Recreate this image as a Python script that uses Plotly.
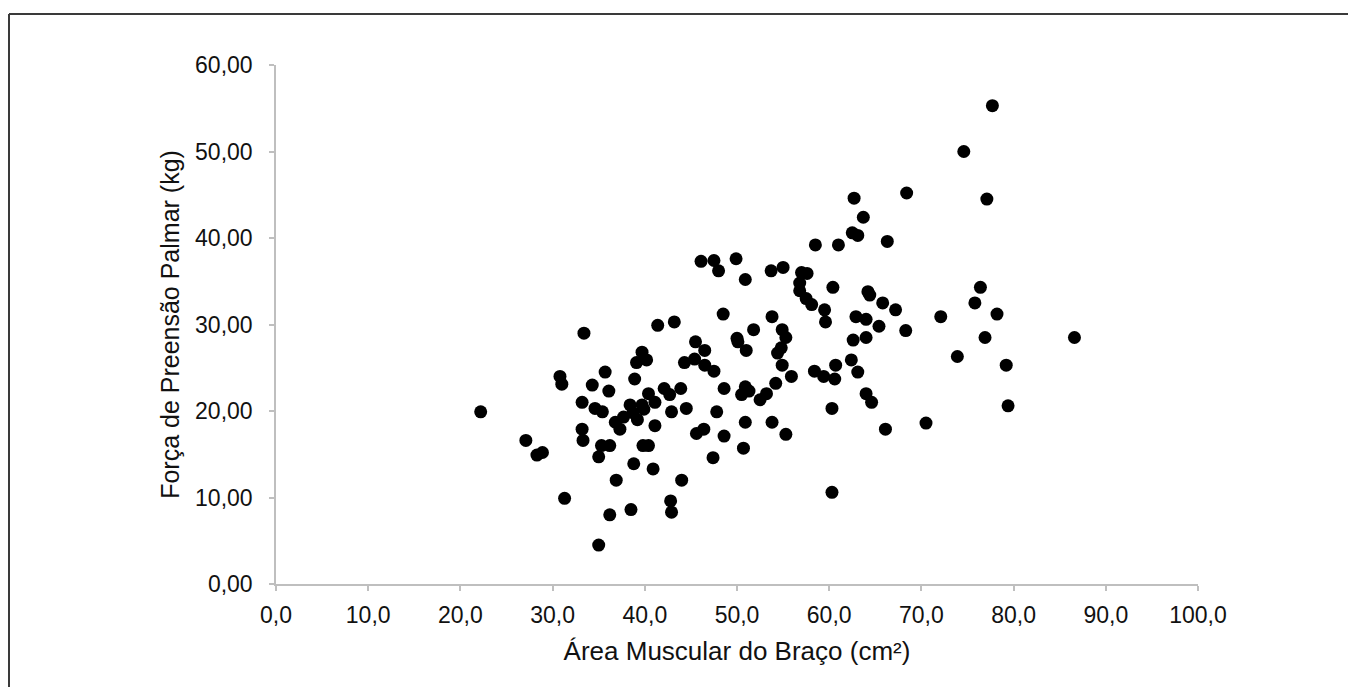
import plotly.graph_objects as go

# Área Muscular do Braço (cm²)
area = [
    22.2, 27.1, 28.3, 28.9, 31.3, 30.8, 31.0, 33.4, 33.2, 33.2,
    33.3, 34.3, 34.6, 35.4, 35.7, 36.1, 35.0, 35.3, 36.2, 36.2,
    36.9, 35.0, 36.8,
    37.3, 37.7, 38.4, 39.7, 38.7, 39.2, 39.9, 38.5, 38.8, 38.9,
    39.7, 39.1, 40.2, 39.8, 40.4, 40.9, 41.1, 40.4, 41.1, 41.4,
    43.2, 42.1, 42.7, 43.9, 42.9, 44.5, 42.8, 42.9, 44.0, 44.3,
    45.5, 46.5, 45.4, 46.5, 47.5, 48.5, 48.6, 47.8, 45.6, 46.4,
    48.6, 47.4, 50.7, 50.9, 50.5, 50.9, 51.3, 50.0, 50.1, 51.0,
    51.8, 50.9, 46.1, 47.5, 48.0, 49.9, 53.7, 55.0, 57.0, 57.6,
    56.8, 56.8, 57.5, 58.1, 58.5, 61.0, 60.4, 59.5, 59.6, 53.8,
    54.9, 55.3, 54.8, 54.4, 54.9, 55.9, 54.2, 52.5, 53.2, 53.8,
    55.3, 58.4, 59.4, 60.6, 60.7, 60.3, 60.3, 62.4, 63.1, 62.6,
    62.9, 64.0, 64.0, 64.2, 64.4, 65.8, 65.4, 67.2, 68.3, 64.0,
    64.6, 66.1, 70.5, 72.1, 73.9, 75.8, 76.4, 76.9, 78.2, 79.2,
    79.4, 86.6, 62.7, 63.7, 62.5, 63.1, 66.3, 68.4, 74.6, 77.1,
    77.7,
]

# Força de Preensão Palmar (kg)
forca = [
    19.9, 16.6, 14.9, 15.2, 9.9, 24.0, 23.1, 29.0, 21.0, 17.9,
    16.6, 23.0, 20.3, 19.9, 24.5, 22.3, 14.7, 16.0, 16.0, 8.0,
    12.0, 4.5, 18.7,
    17.9, 19.3, 20.7, 20.7, 19.8, 19.0, 20.2, 8.6, 13.9, 23.7,
    26.8, 25.6, 25.9, 16.0, 16.0, 13.3, 18.3, 22.0, 21.0, 29.9,
    30.3, 22.6, 21.9, 22.6, 19.9, 20.3, 9.6, 8.3, 12.0, 25.6,
    28.0, 27.0, 26.0, 25.3, 24.6, 31.2, 22.6, 19.9, 17.4, 17.9,
    17.1, 14.6, 15.7, 18.7, 21.9, 22.8, 22.3, 28.4, 28.0, 27.0,
    29.4, 35.2, 37.3, 37.4, 36.2, 37.6, 36.2, 36.6, 36.0, 35.9,
    34.8, 33.9, 33.0, 32.3, 39.2, 39.2, 34.3, 31.7, 30.3, 30.9,
    29.4, 28.5, 27.3, 26.7, 25.3, 24.0, 23.2, 21.3, 22.0, 18.7,
    17.3, 24.6, 24.0, 23.7, 25.3, 20.3, 10.6, 25.9, 24.5, 28.2,
    30.9, 30.6, 28.5, 33.8, 33.4, 32.5, 29.8, 31.7, 29.3, 22.0,
    21.0, 17.9, 18.6, 30.9, 26.3, 32.5, 34.3, 28.5, 31.2, 25.3,
    20.6, 28.5, 44.6, 42.4, 40.6, 40.3, 39.6, 45.2, 50.0, 44.5,
    55.3,
]

x_ticks = [0, 10, 20, 30, 40, 50, 60, 70, 80, 90, 100]
y_ticks = [0, 10, 20, 30, 40, 50, 60]

FONT = "Liberation Sans, Arial, sans-serif"
AXIS_GRAY = "#bfbfbf"
TICK_SIZE = 23
TITLE_SIZE = 25

fig = go.Figure()
fig.add_trace(go.Scatter(
    x=area, y=forca, mode="markers",
    marker=dict(color="black", size=13, line=dict(width=0)),
    hoverinfo="x+y", showlegend=False,
))

# the page body adds an 8px offset, so the figure is drawn 8px smaller
OFF = 8
W, H = 1356 - OFF, 687 - OFF
L, T = 276 - OFF, 65 - OFF
pw, ph = 922, 519
R = W - L - pw
B = H - T - ph

bx, by = 9 - OFF, 14 - OFF  # border corner in figure pixels

fig.update_layout(
    width=W, height=H,
    margin=dict(l=L, r=R, t=T, b=B, pad=0),
    paper_bgcolor="white", plot_bgcolor="white",
    separators=",.",
    font=dict(family=FONT, color="#111111", size=TICK_SIZE),
    xaxis=dict(
        range=[0, 100], tickvals=x_ticks, tickformat=".1f",
        showgrid=False, zeroline=False,
        showline=True, linecolor=AXIS_GRAY, linewidth=1.5,
        ticks="outside", ticklen=5, tickwidth=1.5, tickcolor=AXIS_GRAY,
        tickfont=dict(size=TICK_SIZE), ticklabelstandoff=5,
        title=dict(text="Área Muscular do Braço (cm²)", font=dict(size=26), standoff=14),
    ),
    yaxis=dict(
        range=[0, 60], tickvals=y_ticks, tickformat=".2f",
        showgrid=False, zeroline=False,
        showline=True, linecolor=AXIS_GRAY, linewidth=1.5,
        ticks="outside", ticklen=5, tickwidth=1.5, tickcolor=AXIS_GRAY,
        tickfont=dict(size=TICK_SIZE), ticklabelstandoff=12,
        title=dict(text="Força de Preensão Palmar (kg)", font=dict(size=TITLE_SIZE), standoff=8),
    ),
    shapes=[
        dict(type="line", xref="paper", yref="paper",
             x0=(bx - L) / pw, x1=(W - L) / pw,
             y0=(T + ph - by) / ph, y1=(T + ph - by) / ph,
             line=dict(color="#3a3a3a", width=2)),
        dict(type="line", xref="paper", yref="paper",
             x0=(bx - L) / pw, x1=(bx - L) / pw,
             y0=(T + ph - by) / ph, y1=(T + ph - H) / ph,
             line=dict(color="#3a3a3a", width=2)),
    ],
)

fig.write_html("out.html")
